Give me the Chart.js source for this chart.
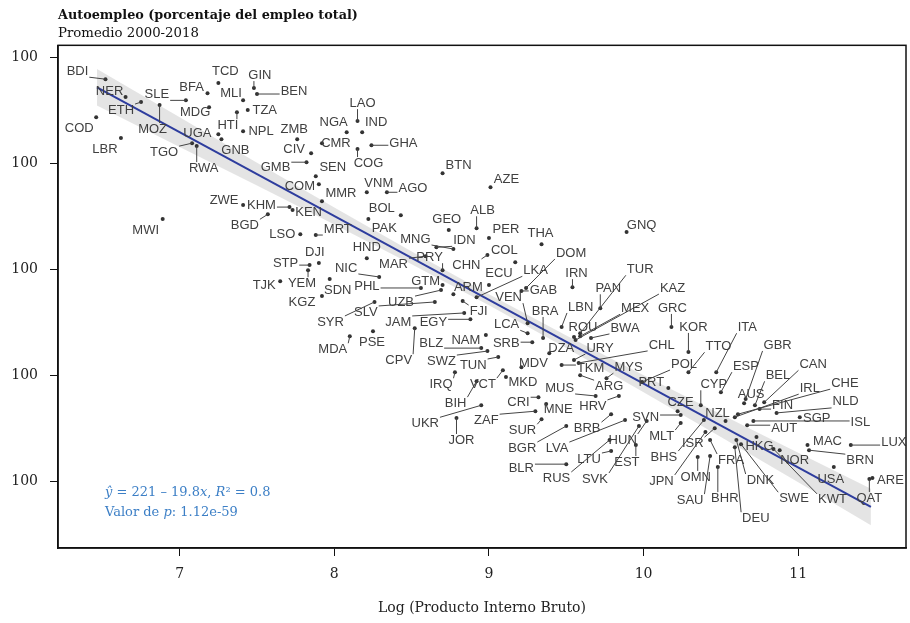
<!DOCTYPE html>
<html>
<head>
<meta charset="utf-8">
<script src="https://cdn.jsdelivr.net/npm/chart.js@4.4.1/dist/chart.umd.min.js"></script>
<style>
  html, body { margin: 0; padding: 0; background: #fff; }
</style>
</head>
<body>
<canvas id="chart" width="910" height="623"></canvas>
<script>
// Country codes, log GDP and self-employment share (% of total employment)
const countries = [
  'BDI','NER','ETH','SLE','MOZ','COD','LBR','BFA','TCD','GIN','BEN','MLI','MDG','TZA','HTI','UGA','NPL','GNB','TGO','RWA',
  'GMB','ZMB','CIV','NGA','LAO','IND','CMR','GHA','COG','SEN','COM','MMR','VNM','AGO','BTN','AZE','BOL','ALB','MWI','ZWE',
  'KHM','KEN','BGD','LSO','MRT','PAK','GEO','PER','THA','GNQ','IDN','MNG','DJI','STP','YEM','TJK','HND','NIC','MAR','PRY',
  'CHN','COL','DOM','LKA','ECU','IRN','GAB','TUR','PAN','KAZ','GTM','PHL','ARM','SDN','KGZ','UZB','SLV','SYR','FJI','JAM',
  'EGY','VEN','LCA','BRA','LBN','MEX','GRC','ROU','BWA','KOR','MDA','PSE','CPV','BLZ','NAM','SRB','DZA','URY','CHL','SWZ',
  'TUN','MDV','TKM','MYS','POL','IRQ','VCT','BIH','MKD','CRI','MUS','ARG','HRV','PRT','CZE','UKR','JOR','ZAF','MNE','SUR',
  'BRB','BGR','LVA','SVN','HUN','EST','MLT','LTU','BLR','RUS','SVK','BHS','ISR','JPN','OMN','SAU','BHR','FRA','DEU','DNK',
  'SWE','KWT','NOR','HKG','USA','MAC','BRN','LUX','ARE','QAT','ISL','SGP','AUT','FIN','NLD','CHE','IRL','AUS','NZL','CYP',
  'CAN','BEL','GBR','ESP','TTO','ITA'
];
const logGdp = [
  6.52, 6.65, 6.75, 7.04, 6.87, 6.46, 6.62, 7.18, 7.25, 7.48, 7.50, 7.41, 7.19, 7.44, 7.37, 7.25, 7.41, 7.27, 7.08, 7.11,
  7.82, 7.76, 7.85, 8.08, 8.15, 8.18, 7.92, 8.24, 8.15, 7.88, 7.90, 7.92, 8.21, 8.34, 8.70, 9.01, 8.43, 8.92, 6.89, 7.41,
  7.71, 7.73, 7.57, 7.78, 7.88, 8.22, 8.74, 9.00, 9.34, 9.89, 8.66, 8.77, 7.90, 7.84, 7.83, 7.65, 8.21, 8.29, 8.59, 8.70,
  8.99, 9.17, 9.24, 8.92, 9.00, 9.54, 9.21, 9.59, 9.72, 9.56, 8.70, 8.56, 8.77, 7.97, 7.92, 8.69, 8.65, 8.26, 8.83, 8.84,
  8.88, 9.25, 9.25, 9.35, 9.47, 9.59, 10.18, 9.55, 9.66, 10.29, 8.10, 8.25, 8.52, 8.95, 8.98, 9.28, 9.39, 9.55, 9.58, 8.99,
  9.06, 9.21, 9.47, 9.76, 9.99, 8.78, 9.09, 8.92, 9.11, 9.32, 9.69, 9.59, 9.84, 10.16, 10.22, 8.95, 8.79, 9.30, 9.37, 9.34,
  9.79, 9.50, 9.88, 10.24, 10.02, 9.95, 10.24, 9.79, 9.50, 9.78, 9.97, 10.39, 10.46, 10.40, 10.35, 10.43, 10.48, 10.43, 10.59, 10.60,
  10.63, 10.84, 10.88, 10.73, 11.23, 11.06, 11.07, 11.34, 11.48, 11.46, 10.71, 11.01, 10.67, 10.75, 10.86, 10.61, 10.59, 10.65, 10.53, 10.37,
  10.78, 10.72, 10.66, 10.50, 10.29, 10.47
];
const selfEmployment = [
  94.9, 90.7, 89.5, 89.9, 88.8, 85.9, 81.0, 91.6, 94.0, 92.8, 91.4, 89.9, 88.3, 87.6, 87.1, 81.9, 82.6, 80.7, 79.8, 79.1,
  75.3, 80.7, 77.4, 82.4, 85.0, 82.4, 79.8, 79.3, 78.4, 72.0, 70.1, 66.1, 68.2, 68.2, 72.7, 69.4, 62.8, 59.7, 61.9, 65.2,
  64.7, 64.0, 63.0, 58.3, 58.1, 61.9, 59.3, 57.4, 55.9, 58.8, 55.2, 54.8, 51.5, 51.0, 49.8, 47.2, 52.6, 48.2, 53.1, 49.8,
  53.4, 51.7, 45.6, 43.4, 46.3, 45.8, 44.9, 34.9, 40.8, 33.3, 46.3, 45.6, 44.1, 47.7, 43.7, 45.1, 42.3, 42.3, 42.5, 39.7,
  38.2, 37.3, 34.9, 33.8, 36.4, 34.2, 36.4, 34.0, 33.8, 30.5, 34.2, 35.4, 36.1, 31.4, 34.5, 32.8, 30.2, 28.6, 27.9, 30.7,
  29.3, 26.9, 27.4, 24.3, 23.4, 25.7, 26.2, 23.6, 24.6, 19.8, 20.1, 25.0, 20.1, 22.0, 16.5, 17.9, 14.9, 16.5, 18.2, 14.6,
  15.8, 13.0, 14.4, 15.6, 14.2, 8.5, 13.7, 7.1, 4.0, 9.7, 13.0, 14.4, 12.5, 11.6, 5.7, 5.9, 3.3, 9.7, 8.0, 9.7,
  8.7, 7.6, 7.3, 10.4, 3.3, 8.5, 7.3, 8.5, 0.7, 0.5, 14.2, 15.1, 13.2, 17.0, 16.1, 15.8, 15.1, 18.4, 14.2, 17.9,
  18.6, 17.9, 19.4, 21.0, 25.7, 25.7
];
// label placement relative to each point, in pixels [dx, dy]
const labelOffsets = [
  [-28,-8],[-16,-6],[-20,8],[-29,-6],[-7,24],[-17,11],[-16,11],[-16,-6],[7,-12],[6,-13],[37,-3],[-12,-7],[-14,5],[17,0],[-9,13],[-21,-1],[18,0],[14,11],[-28,9],[7,22],
  [-31,5],[-3,-10],[-17,-4],[-13,-10],[5,-18],[14,-10],[14,0],[32,-2],[11,14],[17,-9],[-19,2],[19,-8],[12,-9],[26,-4],[16,-8],[16,-8],[-19,-7],[6,-18],[-17,11],[-19,-5],
  [-28,-2],[16,2],[-23,11],[-18,0],[22,-6],[16,9],[-2,-11],[17,-9],[-1,-11],[15,-7],[28,-7],[-38,-10],[-4,-11],[-24,-2],[-6,13],[-16,4],[0,-11],[-33,-9],[-32,8],[-13,-13],
  [-21,10],[-11,-12],[45,-35],[59,-27],[10,-12],[4,-14],[22,-1],[60,-64],[8,-20],[97,-52],[-17,-4],[-54,-2],[15,-7],[8,11],[-20,6],[-40,12],[-69,10],[-44,20],[16,10],[-66,9],
  [-37,3],[-19,-26],[-21,-9],[2,-27],[19,-20],[55,-28],[1,-19],[9,-10],[34,-10],[5,-25],[-17,13],[-1,11],[-16,32],[-50,-5],[-20,5],[-26,1],[12,-5],[26,-12],[83,-18],[-46,10],
  [-25,8],[12,-4],[29,3],[22,-11],[42,-18],[-14,12],[-20,14],[-21,22],[17,6],[-20,5],[-36,-8],[29,11],[-26,10],[-17,-5],[3,-9],[-56,18],[5,22],[-49,9],[12,5],[-19,11],
  [-24,14],[-44,22],[-68,28],[-35,2],[-24,19],[-9,17],[-19,13],[-22,8],[-45,4],[-53,38],[-44,53],[-40,37],[-22,15],[-44,49],[-2,20],[-20,44],[7,31],[21,20],[21,71],[24,40],
  [53,54],[59,51],[15,10],[3,9],[-3,12],[20,-4],[51,10],[43,-3],[18,2],[0,19],[107,1],[17,1],[37,3],[23,-4],[69,-11],[107,-31],[75,-29],[7,-9],[-8,-8],[13,-21],
  [49,-38],[23,-30],[32,-54],[25,-26],[30,-26],[31,-45]
];

// fitted line: y = 221 - 19.8x, and its confidence band
const fitX = [6.465, 11.47];
const fitY = fitX.map(x => 221 - 19.8 * x);
const bandX = [6.465, 7, 7.5, 8, 8.5, 9, 9.5, 10, 10.5, 11, 11.47];
const bandHigh = [97.3, 85.9, 75.2, 64.6, 54.2, 44.1, 34.4, 25.0, 15.8, 6.7, -1.8];
const bandLow = [88.7, 78.9, 69.8, 60.6, 51.2, 41.5, 31.4, 21.0, 10.4, -0.3, -10.4];

const xTicks = [7, 8, 9, 10, 11];
const yTickValues = [0, 25, 50, 75, 100];
const yTickLabels = ['100', '100', '100', '100', '100'];

const serif = '"DejaVu Serif", serif';

const frame = {
  id: 'frame',
  afterDraw(chart) {
    const { ctx, chartArea: a } = chart;
    ctx.save();
    ctx.strokeStyle = '#111';
    ctx.lineWidth = 1.5;
    ctx.strokeRect(a.left, a.top, a.right - a.left, a.bottom - a.top);
    ctx.restore();
  }
};

const countryLabels = {
  id: 'countryLabels',
  afterDatasetsDraw(chart) {
    const ctx = chart.ctx;
    const pts = chart.getDatasetMeta(0).data;
    ctx.save();
    ctx.font = '13px "Liberation Sans", Arial, sans-serif';
    ctx.textAlign = 'center';
    ctx.textBaseline = 'middle';
    ctx.strokeStyle = '#444';
    ctx.lineWidth = 1;
    pts.forEach((p, i) => {
      const [dx, dy] = labelOffsets[i];
      const lx = p.x + dx, ly = p.y + dy;
      const hw = ctx.measureText(countries[i]).width / 2 + 1, hh = 6;
      const cx = Math.max(lx - hw, Math.min(p.x, lx + hw));
      const cy = Math.max(ly - hh, Math.min(p.y, ly + hh));
      if (Math.hypot(cx - p.x, cy - p.y) > 6) {
        ctx.beginPath();
        ctx.moveTo(p.x, p.y);
        ctx.lineTo(cx, cy);
        ctx.stroke();
      }
    });
    ctx.fillStyle = '#404040';
    pts.forEach((p, i) => {
      const [dx, dy] = labelOffsets[i];
      ctx.fillText(countries[i], p.x + dx, p.y + dy);
    });
    ctx.restore();
  }
};

// regression summary, with italic symbols
const fitNote = {
  id: 'fitNote',
  afterDraw(chart) {
    const { ctx, chartArea: a } = chart;
    const lines = [
      [['ŷ', true], [' = 221 \u2013 19.8', false], ['x', true], [', ', false], ['R', true], ['\u00b2', false], [' = 0.8', false]],
      [['Valor de ', false], ['p', true], [': 1.12e-59', false]]
    ];
    ctx.save();
    ctx.fillStyle = '#3c7fc6';
    ctx.textBaseline = 'middle';
    lines.forEach((parts, row) => {
      let x = a.left + 47;
      const y = a.bottom - 55 + row * 20;
      parts.forEach(([txt, it]) => {
        ctx.font = (it ? 'italic ' : '') + '13px ' + serif;
        ctx.fillText(txt, x, y);
        x += ctx.measureText(txt).width;
      });
    });
    ctx.restore();
  }
};

new Chart(document.getElementById('chart'), {
  type: 'scatter',
  data: {
    datasets: [
      {
        data: logGdp.map((x, i) => ({ x, y: selfEmployment[i] })),
        pointRadius: 2,
        pointBackgroundColor: '#333',
        pointBorderWidth: 0
      },
      {
        data: fitX.map((x, i) => ({ x, y: fitY[i] })),
        showLine: true,
        borderColor: '#2e3d9e',
        borderWidth: 2,
        pointRadius: 0
      },
      {
        data: bandX.map((x, i) => ({ x, y: bandHigh[i] })),
        showLine: true,
        borderWidth: 0,
        pointRadius: 0,
        backgroundColor: 'rgba(190,190,190,0.42)',
        fill: '+1'
      },
      {
        data: bandX.map((x, i) => ({ x, y: bandLow[i] })),
        showLine: true,
        borderWidth: 0,
        pointRadius: 0
      }
    ]
  },
  options: {
    responsive: false,
    animation: false,
    devicePixelRatio: 1,
    layout: { padding: { top: 0, right: 2, bottom: 0, left: 0 } },
    plugins: {
      legend: { display: false },
      tooltip: { enabled: false },
      title: {
        display: true,
        text: 'Autoempleo (porcentaje del empleo total)',
        align: 'start',
        fullSize: false,
        color: '#111',
        font: { family: serif, size: 12.8, weight: 'bold' },
        padding: { top: 7.5, bottom: 3 }
      },
      subtitle: {
        display: true,
        text: 'Promedio 2000-2018',
        align: 'start',
        fullSize: false,
        color: '#111',
        font: { family: serif, size: 13.3 },
        padding: { top: 0, bottom: 3.5 }
      }
    },
    scales: {
      x: {
        type: 'linear',
        min: 6.213,
        max: 11.697,
        afterBuildTicks: s => { s.ticks = xTicks.map(v => ({ value: v })); },
        afterFit: s => { s.height = 75; },
        ticks: { font: { family: serif, size: 14 }, color: '#222', padding: 10 },
        grid: { drawOnChartArea: false, tickLength: 8, color: '#111' },
        border: { color: '#111', width: 1.5 },
        title: {
          display: true,
          text: 'Log (Producto Interno Bruto)',
          color: '#222',
          font: { family: serif, size: 14 },
          padding: { top: 0, bottom: 6 }
        }
      },
      y: {
        min: -15.8,
        max: 102.9,
        afterBuildTicks: s => { s.ticks = yTickValues.map(v => ({ value: v })); },
        afterFit: s => { s.width = 58; },
        ticks: { callback: (v, i) => yTickLabels[i], font: { family: serif, size: 14 }, color: '#222', padding: 12 },
        grid: { drawOnChartArea: false, tickLength: 8, color: '#111' },
        border: { color: '#111', width: 1.5 }
      }
    }
  },
  plugins: [countryLabels, fitNote, frame]
});
</script>
</body>
</html>
